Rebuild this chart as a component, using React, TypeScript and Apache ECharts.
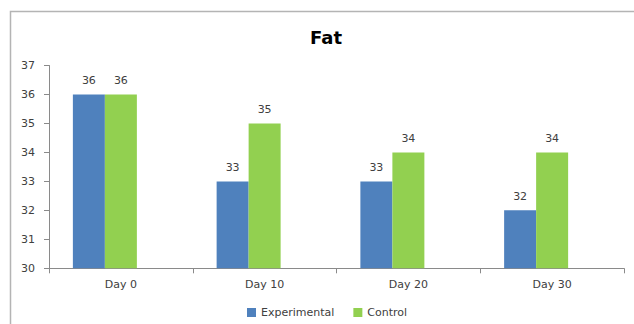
import React, { useEffect, useRef } from "react";
import * as echarts from "echarts";

// Fat measurements per sampling day
const days = ["Day 0", "Day 10", "Day 20", "Day 30"];
const experimental = [36, 33, 33, 32];
const control = [36, 35, 34, 34];
// an empty third column keeps its slot, so each pair sits left of the category centre
const emptySlot = [null, null, null, null];
const seriesNames = ["Experimental", "Control"];
const yMin = 30;
const yMax = 37;

const FONT = "DejaVu Sans, Verdana, sans-serif";
const AXIS_GRAY = "#8a8a8a";
const TEXT_GRAY = "#404040";

export default function App() {
  const ref = useRef<HTMLDivElement>(null);

  useEffect(() => {
    if (!ref.current) return;
    const chart = echarts.init(ref.current, undefined, { renderer: "svg" });

    const valueLabel = {
      show: true,
      position: "top" as const,
      distance: 8,
      color: TEXT_GRAY,
      fontFamily: FONT,
      fontSize: 11,
    };

    chart.setOption({
      animation: false,
      backgroundColor: "#ffffff",
      title: {
        text: "Fat",
        left: 305,
        top: 23,
        textStyle: {
          fontFamily: FONT,
          fontWeight: "bold",
          fontSize: 18,
          color: "#000000",
        },
      },
      graphic: [
        {
          type: "rect",
          shape: { x: 10.5, y: 11.5, width: 700, height: 400 },
          style: { fill: "none", stroke: "#b4b4b4", lineWidth: 1.5 },
          silent: true,
          z: -1,
        },
      ],
      legend: {
        data: seriesNames,
        left: 242,
        top: 302,
        itemWidth: 9,
        itemHeight: 9,
        itemGap: 19,
        icon: "rect",
        textStyle: { fontFamily: FONT, fontSize: 11, color: TEXT_GRAY },
      },
      grid: { left: 49, right: 10, top: 65.5, bottom: 55.7, containLabel: false },
      xAxis: {
        type: "category",
        data: days,
        axisLine: { show: true, lineStyle: { color: AXIS_GRAY, width: 1 } },
        axisTick: { show: true, length: 5, lineStyle: { color: AXIS_GRAY } },
        axisLabel: { margin: 11, color: TEXT_GRAY, fontFamily: FONT, fontSize: 11 },
        splitLine: { show: false },
      },
      yAxis: {
        type: "value",
        min: yMin,
        max: yMax,
        interval: 1,
        axisLine: { show: true, lineStyle: { color: AXIS_GRAY, width: 1 } },
        axisTick: { show: true, length: 5, lineStyle: { color: AXIS_GRAY } },
        axisLabel: { margin: 14, color: TEXT_GRAY, fontFamily: FONT, fontSize: 11 },
        splitLine: { show: false },
      },
      series: [
        {
          name: seriesNames[0],
          type: "bar",
          data: experimental,
          barWidth: 32,
          barGap: "0%",
          itemStyle: { color: "#4f81bd" },
          label: valueLabel,
        },
        {
          name: seriesNames[1],
          type: "bar",
          data: control,
          barWidth: 32,
          barGap: "0%",
          itemStyle: { color: "#92d050" },
          label: valueLabel,
        },
        {
          name: "empty",
          type: "bar",
          data: emptySlot,
          barWidth: 32,
          barGap: "0%",
          silent: true,
          itemStyle: { color: "transparent" },
        },
      ],
    });

    return () => chart.dispose();
  }, []);

  return (
    <div
      ref={ref}
      style={{ position: "fixed", left: 0, top: 0, width: 634, height: 324 }}
    />
  );
}
